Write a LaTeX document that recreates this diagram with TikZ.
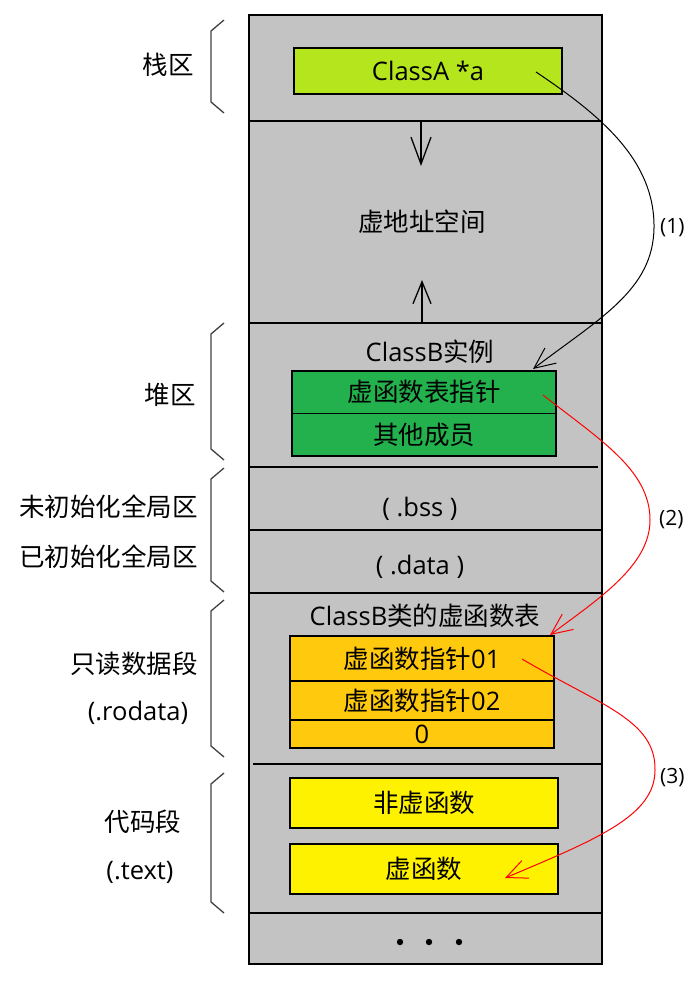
\documentclass[tikz,border=0pt]{standalone}
\usepackage{fontspec}
\setmainfont{Noto Sans CJK SC}
\newfontfamily\lat{Open Sans}
\usetikzlibrary{arrows.meta}
\definecolor{memgray}{HTML}{C3C3C3}
\definecolor{lime}{HTML}{B5E61D}
\definecolor{grn}{HTML}{22B14C}
\definecolor{orng}{HTML}{FFC90E}
\definecolor{ylw}{HTML}{FFF200}
\definecolor{bracegray}{HTML}{404040}
\tikzset{
  txt/.style={inner sep=0pt, font=\fontsize{25.5}{28}\selectfont, text=black},
  small/.style={inner sep=0pt, font=\fontsize{21}{24}\selectfont, text=black},
  cell/.style={draw=black, line width=1.6pt, inner sep=0pt, font=\fontsize{25.5}{28}\selectfont, text=black},
  sep/.style={draw=black, line width=1.8pt},
  brace/.style={draw=bracegray, line width=1.3pt},
  growarrow/.style={draw=black, line width=1.3pt, -{Straight Barb[length=27pt,width=20pt,line width=1.3pt]}},
  growarrowb/.style={draw=black, line width=1.3pt, -{Straight Barb[length=22pt,width=18pt,line width=1.3pt]}},
  ptr/.style={line width=1pt, -{Straight Barb[length=21pt,width=19pt,line width=1pt]}},
}
\begin{document}
\begin{tikzpicture}[x=1pt,y=-1pt]
\useasboundingbox (0,0) rectangle (686,1008);
\clip (0,0) rectangle (686,1008);
% memory column
\path[fill=memgray] (249,15) rectangle (602,964);
\coordinate (colTL) at (249,15);
\coordinate (colBR) at (602,964);
\draw[sep] (249,121) -- (602,121);
\draw[sep] (249,323) -- (602,323);
\draw[sep] (249,467) -- (598,467);
\draw[sep] (249,530) -- (602,530);
\draw[sep] (249,593) -- (602,593);
\draw[sep] (253,764) -- (602,764);
\draw[sep] (249,913) -- (602,913);
\draw[line width=2pt] (colTL) rectangle (colBR);

% stack
\node[cell, fill=lime, minimum width=268pt, minimum height=46pt] (classA) at (428,71) {\lat ClassA *a};
\coordinate (downS) at (421,121);
\coordinate (downE) at (421,166);
\draw[growarrow] (downS) -- (downE);
\node[txt] (vas) at (422,222) {虚地址空间};
\coordinate (upS) at (422,323);
\coordinate (upE) at (422,280);
\draw[growarrowb] (upS) -- (upE);

% heap
\node[txt] (inst) at (430,352) {{\lat ClassB}实例};
\node[cell, fill=grn, minimum width=264pt, minimum height=42.5pt] (vptr) at (424,392.25) {虚函数表指针};
\node[cell, fill=grn, minimum width=264pt, minimum height=42.5pt] (other) at (424,434.75) {其他成员};

% bss / data
\node[txt] (bss) at (420,509) {\lat ( .bss )};
\node[txt] (data) at (420,567) {\lat ( .data )};

% rodata
\node[txt] (vtbl) at (425,616) {{\lat ClassB}类的虚函数表};
\node[cell, fill=orng, minimum width=264pt, minimum height=45pt] (fp1) at (422,658.5) {虚函数指针{\lat 01}};
\node[cell, fill=orng, minimum width=264pt, minimum height=39pt] (fp2) at (422,700.5) {虚函数指针{\lat 02}};
\node[cell, fill=orng, minimum width=264pt, minimum height=28pt] (zero) at (422,734) {\lat 0};

% text
\node[cell, fill=ylw, minimum width=268pt, minimum height=50pt] (nonvf) at (424,803) {非虚函数};
\node[cell, fill=ylw, minimum width=268pt, minimum height=50pt] (vf) at (424,869) {虚函数};

% dots
\fill (400,942) circle (3.2pt);
\fill (429,942) circle (3.2pt);
\fill (459,942) circle (3.2pt);

% braces
\draw[brace] (224,20) -- (211,31) -- (211,102) -- (224,113);
\draw[brace] (224,323) -- (211,334) -- (211,449) -- (224,460);
\draw[brace] (224,468) -- (211,479) -- (211,581) -- (224,592);
\draw[brace] (224,600) -- (211,611) -- (211,746) -- (224,757);
\draw[brace] (224,773) -- (211,784) -- (211,902) -- (224,913);

% left labels
\node[txt, anchor=east] (lstack) at (194,65) {栈区};
\node[txt, anchor=east] (lheap) at (196,395) {堆区};
\node[txt, anchor=east] (lbss) at (198,507) {未初始化全局区};
\node[txt, anchor=east] (ldata) at (198,557) {已初始化全局区};
\node[txt, anchor=east] (lro) at (198,664) {只读数据段};
\node[txt] (lro2) at (138,713) {\lat (.rodata)};
\node[txt] (ltext) at (143,822) {代码段};
\node[txt] (ltext2) at (140,872) {\lat (.text)};

% pointer arrows
\coordinate (s1) at (536,72);
\coordinate (e1) at (533,369);
\coordinate (s2) at (543,395);
\coordinate (e2) at (550,635);
\coordinate (s3) at (522,659);
\coordinate (e3) at (505,878);
\draw[ptr, draw=black] (s1) .. controls (600,115) and (655,160) .. (654,228)
  .. controls (653,290) and (600,318) .. (e1);
\draw[ptr, draw=red] (s2) .. controls (600,440) and (650,470) .. (650,520)
  .. controls (650,565) and (600,598) .. (e2);
\draw[ptr, draw=red] (s3) .. controls (600,705) and (656,720) .. (655,770)
  .. controls (655,815) and (600,838) .. (e3);

% right labels
\node[small, anchor=west] (r1) at (660,228) {\lat (1)};
\node[small, anchor=west] (r2) at (659,520) {\lat (2)};
\node[small, anchor=west] (r3) at (660,778) {\lat (3)};
\end{tikzpicture}
\end{document}
